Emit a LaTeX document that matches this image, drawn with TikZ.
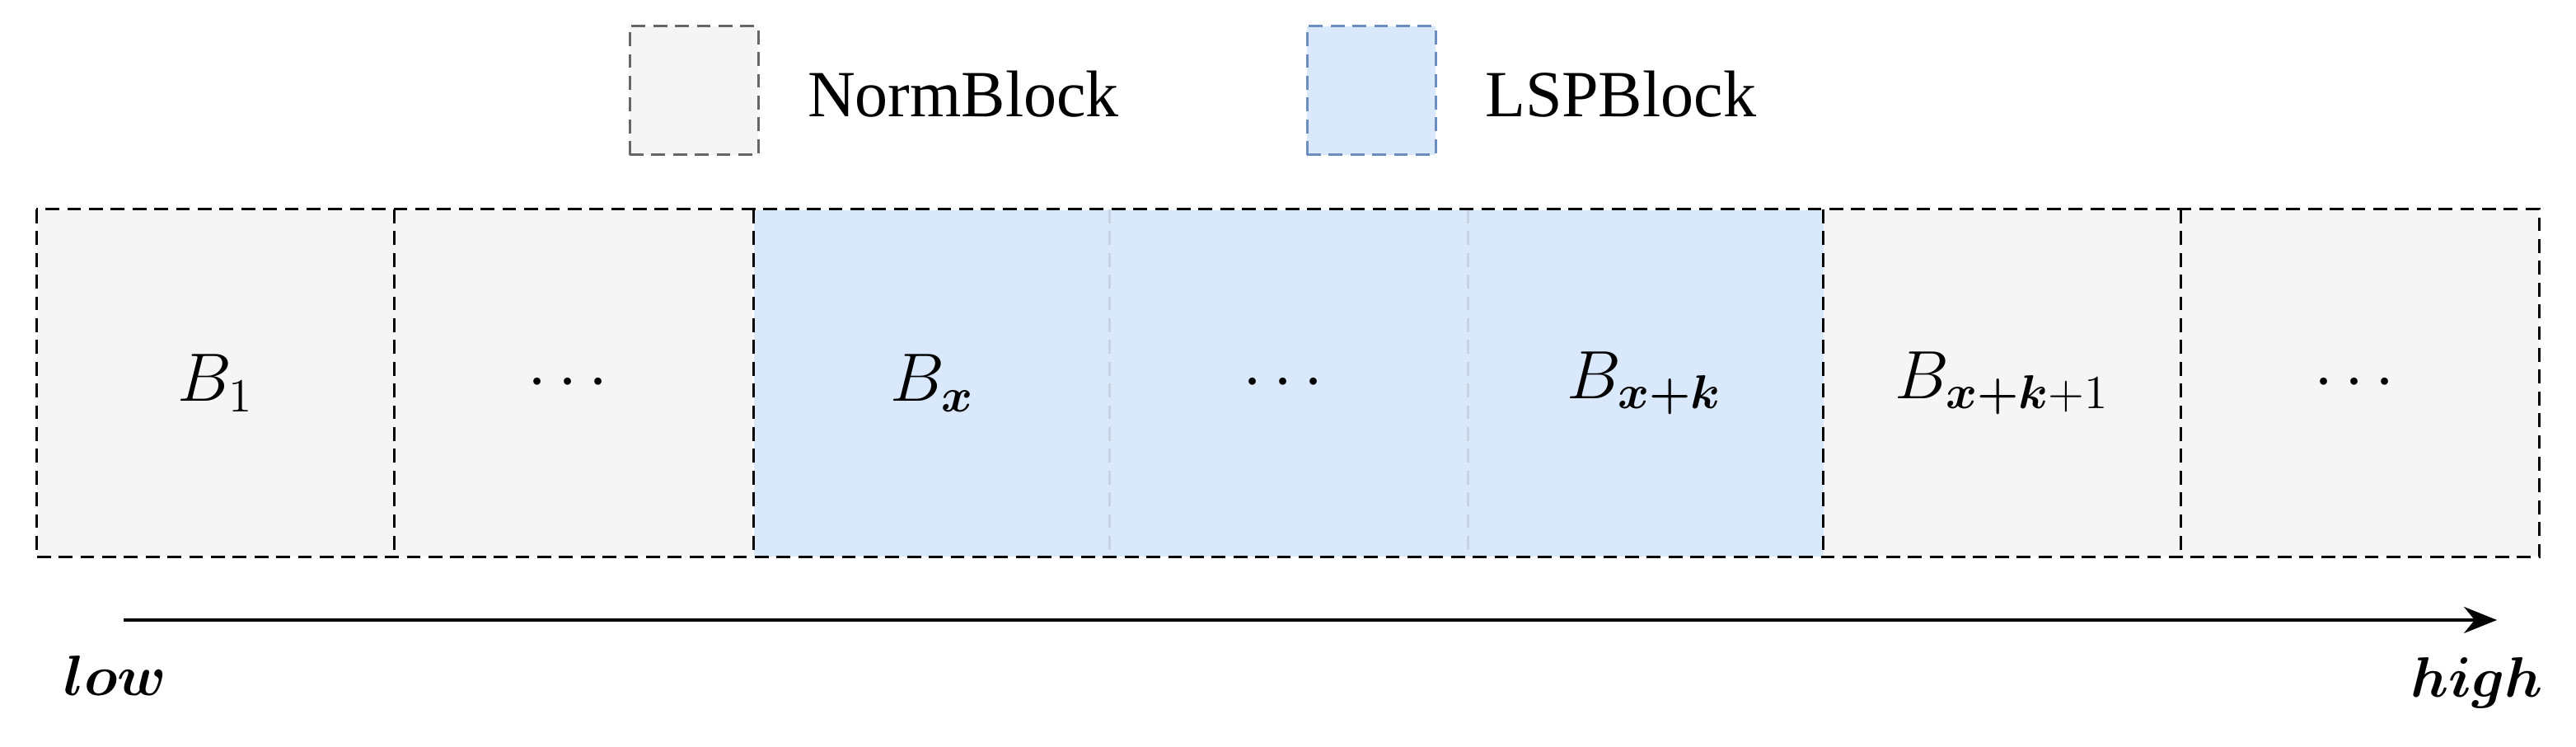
\documentclass[tikz,border=0pt]{standalone}
\usepackage{amsmath,bm}
\usepackage{fontspec}
\setmainfont{Liberation Serif}
\usetikzlibrary{arrows.meta}
\definecolor{grayfill}{HTML}{F5F5F5}
\definecolor{grayline}{HTML}{666666}
\definecolor{bluefill}{HTML}{DAE8FC}
\definecolor{blueline}{HTML}{6C8EBF}
\definecolor{faint}{HTML}{C8D2E0}
\tikzset{
  dsh/.style={dash pattern=on 4.2pt off 2.4pt, line width=0.75pt},
  normcell/.style={fill=grayfill},
  lspcell/.style={fill=bluefill},
  lbl/.style={font=\fontsize{20}{24}\selectfont},
}
\begin{document}
\begin{tikzpicture}[x=0.5pt,y=-0.5pt]
\useasboundingbox (0,0) rectangle (1563,453);
% legend
\node[draw=grayline, dsh, fill=grayfill, minimum width=39pt, minimum height=39pt, inner sep=0] (lg1) at (421,55) {};
\node[lbl, anchor=west] (lt1) at (483,57) {NormBlock};
\node[draw=blueline, dsh, fill=bluefill, minimum width=39pt, minimum height=39pt, inner sep=0] (lg2) at (832,55) {};
\node[lbl, anchor=west] (lt2) at (894,57) {LSPBlock};
% cells
\foreach \i/\x/\s/\t in {1/22/normcell/{$B_1$},2/239/normcell/{$\cdots$},3/457/lspcell/{$B_{\bm{x}}$},4/673/lspcell/{$\cdots$},5/889/lspcell/{$B_{\bm{x+k}}$},6/1106/normcell/{$B_{\bm{x+k}+1}$},7/1323/normcell/{$\cdots$}}{
  \node[\s, lbl, anchor=north west, minimum width=108.5pt, minimum height=105pt, inner sep=0] (c\i) at (\x,127) {\t};
}
\draw[dsh, faint] (c4.north west) -- (c4.south west);
\draw[dsh, faint] (c4.north east) -- (c4.south east);
\foreach \i in {2,3,6,7}{
  \draw[dsh] (c\i.north west) -- (c\i.south west);
}
\draw[dsh] (c1.north west) rectangle (c7.south east);
% axis
\coordinate (a0) at (75,376);
\coordinate (a1) at (1515,376);
\draw[line width=1pt, -{Stealth[length=10pt,width=8pt]}] (a0) -- (a1);
\node[font=\fontsize{18}{22}\selectfont] (low) at (70,410) {$\bm{low}$};
\node[font=\fontsize{18}{22}\selectfont] (high) at (1503,414) {$\bm{high}$};
\end{tikzpicture}
\end{document}
